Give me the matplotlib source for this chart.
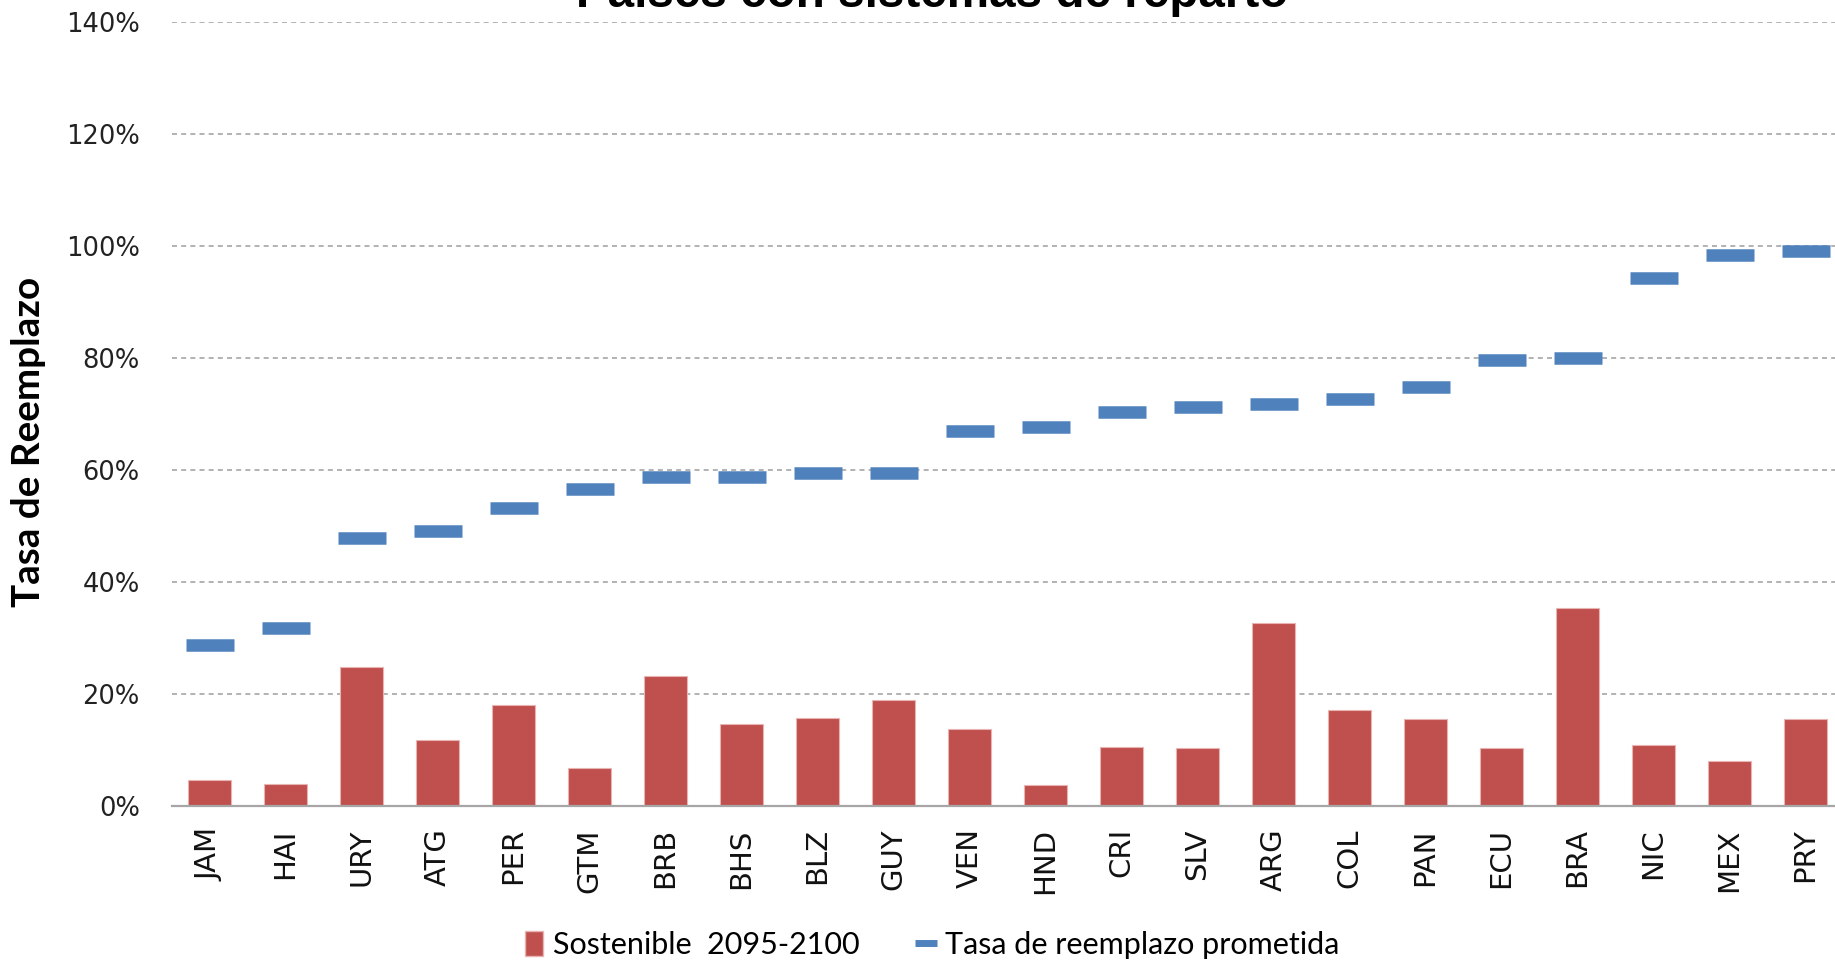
import matplotlib
matplotlib.use("Agg")
import matplotlib.pyplot as plt
from matplotlib.lines import Line2D
from matplotlib.patches import Patch
from matplotlib.ticker import PercentFormatter
import numpy as np

# DATA
paises = ["JAM", "HAI", "URY", "ATG", "PER", "GTM", "BRB", "BHS", "BLZ", "GUY", "VEN",
          "HND", "CRI", "SLV", "ARG", "COL", "PAN", "ECU", "BRA", "NIC", "MEX", "PRY"]
sostenible = [4.6, 4.0, 24.9, 11.7, 18.0, 6.7, 23.2, 14.6, 15.8, 18.9, 13.7,
              3.7, 10.6, 10.3, 32.7, 17.2, 15.5, 10.3, 35.3, 10.9, 8.0, 15.5]
prometida = [28.8, 31.8, 47.9, 49.1, 53.2, 56.6, 58.7, 58.7, 59.4, 59.4, 66.9,
             67.7, 70.4, 71.2, 71.7, 72.6, 74.9, 79.7, 80.0, 94.3, 98.4, 99.1]

ROJO = "#C0504D"
AZUL = "#4F81BD"
NARROW = ["Lato", "DejaVu Sans"]

fig = plt.figure(figsize=(18.35, 9.6), dpi=100)
ax = fig.add_axes([0.0935, 0.1604, 0.9112, 0.8167])

x = np.arange(len(paises))
ax.bar(x, sostenible, width=0.57, color=ROJO, edgecolor="#E8B4B3", linewidth=0.8, zorder=3)
ax.plot(x, prometida, ls="none", marker="_", ms=35, mew=9, color=AZUL,
        markeredgecolor=AZUL, zorder=4)

ax.set_xlim(-0.5, len(paises) - 0.5)
ax.set_ylim(0, 140)
ax.set_yticks(np.arange(0, 141, 20))
ax.yaxis.set_major_formatter(PercentFormatter(decimals=0))
ax.set_xticks(x)
ax.set_xticklabels(paises, rotation=90, fontsize=21, color="#111111")
ax.tick_params(axis="x", length=0, pad=16)
ax.tick_params(axis="y", length=0, pad=23, labelsize=18.5, labelcolor="#222222")

ax.grid(axis="y", color="#A6A6A6", linestyle=(0, (3, 2.5)), linewidth=1.2, zorder=0)
for s in ["top", "right", "left"]:
    ax.spines[s].set_visible(False)
ax.spines["bottom"].set_color("#A6A6A6")
ax.spines["bottom"].set_linewidth(1.6)
ax.spines["bottom"].set_zorder(5)

fig.text(0.508, 1 - 7 / 960, "Países con sistemas de reparto", ha="center", va="baseline",
         fontsize=34.3, fontweight="bold", family=["Liberation Sans", "DejaVu Sans"])
fig.text(0.0158, 0.540, "Tasa de Reemplazo", rotation=90, ha="center", va="center",
         fontsize=27.8, fontweight="bold", family=NARROW)

handles = [Patch(facecolor=ROJO, edgecolor="#E8B4B3"),
           Line2D([], [], ls="none", marker="_", ms=16, mew=5, color=AZUL)]
fig.legend(handles, ["Sostenible  2095-2100", "Tasa de reemplazo prometida"],
           loc="center", bbox_to_anchor=(0.508, 1 - 945 / 960), ncol=2, frameon=False,
           prop={"family": NARROW, "size": 22}, handlelength=0.6, handleheight=0.9,
           handletextpad=0.3, columnspacing=1.9)

fig.savefig("out.png", dpi=100)
